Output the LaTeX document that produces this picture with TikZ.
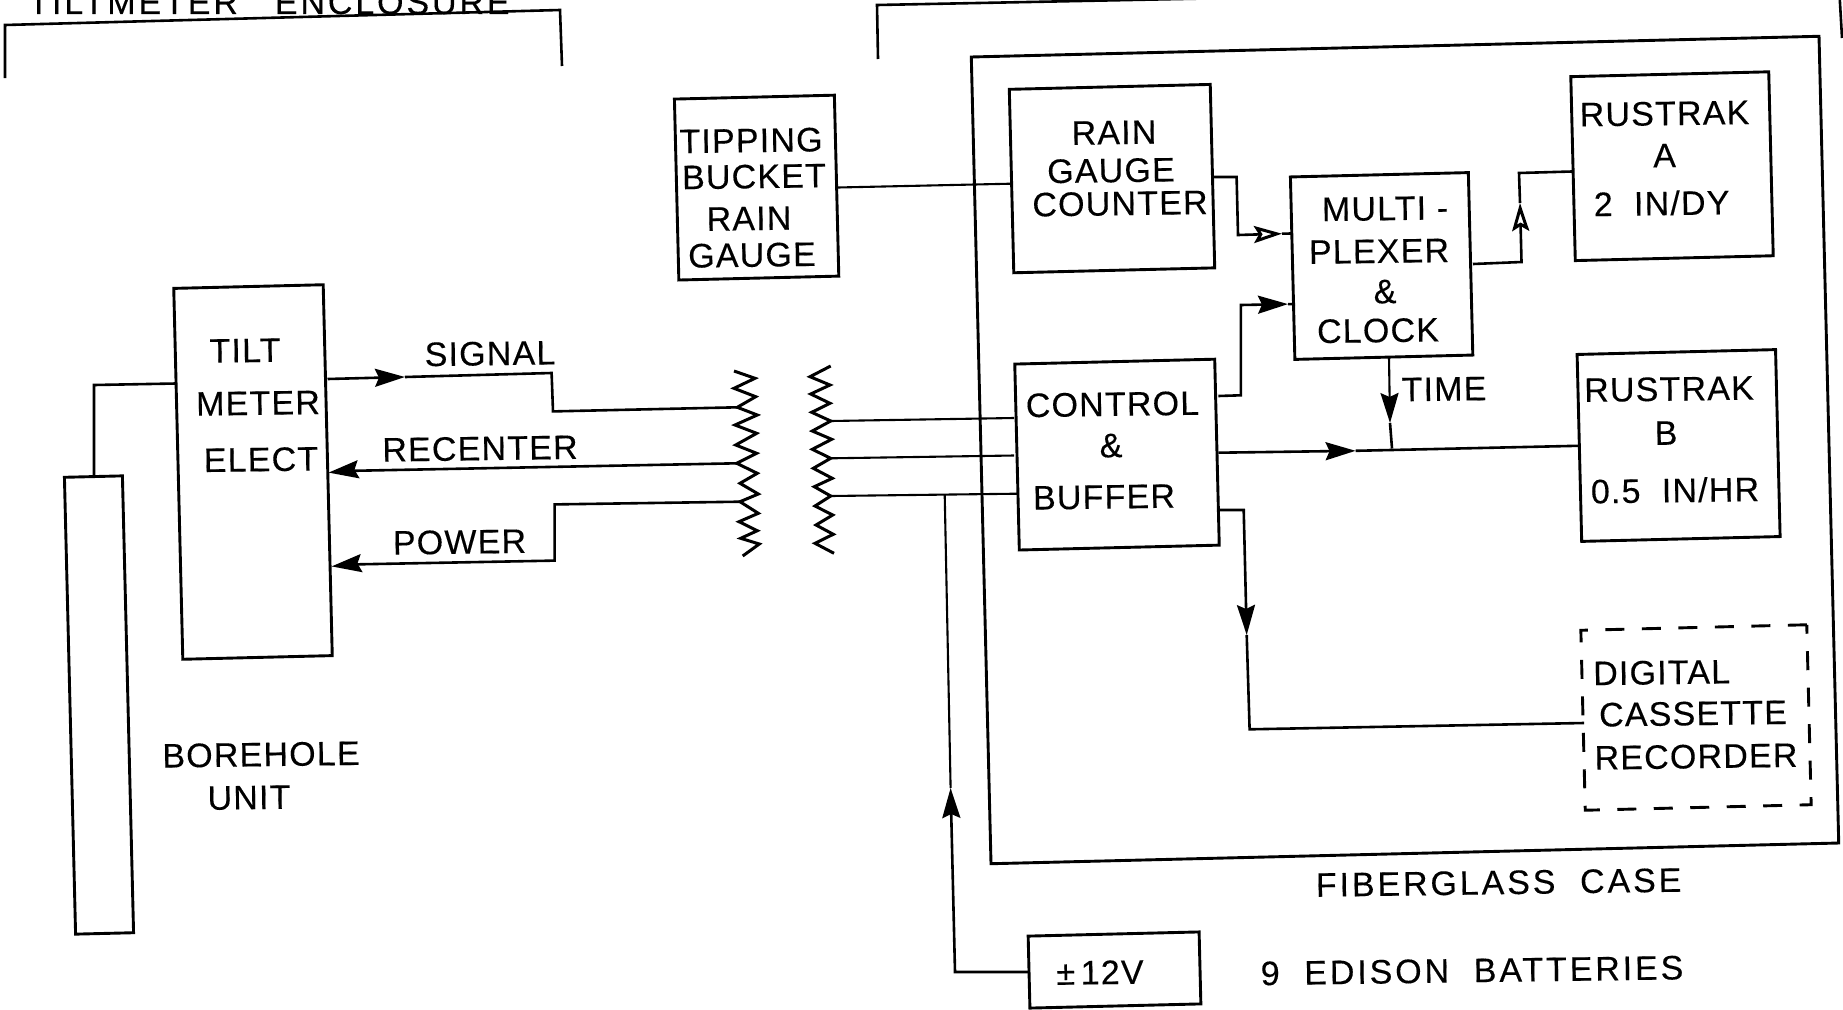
\documentclass[tikz,border=0pt]{standalone}
\usepackage{fontspec}
\setmainfont{Liberation Sans}
\usetikzlibrary{arrows.meta}
\tikzset{
 ln/.style={draw=black,line width=2.6pt,line join=miter},
 thin ln/.style={draw=black,line width=2.1pt},
 boxst/.style={draw=black,line width=2.9pt,fill=none,inner sep=0pt,rotate=1.4},
 dashbox/.style={boxst,dash pattern=on 19pt off 17.5pt},
 lab/.style={inner sep=0pt,text=black,rotate=0.8,text height=24.5pt,text depth=0pt,
   font=\fontsize{34}{36}\selectfont\addfontfeatures{LetterSpace=3.5,FakeBold=0.25}},
 widelab/.style={lab,font=\fontsize{34}{36}\selectfont\addfontfeatures{LetterSpace=8.5,FakeBold=0.25}},
 tipf/.style={-{Stealth[length=30pt,width=18pt,inset=4pt]}},
 tipo/.style={-{Stealth[length=28pt,width=17pt,inset=5pt,open,fill=white,line width=3pt]}},
}
\begin{document}
\begin{tikzpicture}[x=1pt,y=-1pt]
\useasboundingbox (0,0) rectangle (1843,1009);
\clip (0,0) rectangle (1843,1009);
\fill[white] (0,0) rectangle (1843,1009);

% enclosures
\node[widelab,anchor=base,rotate=-0.8] (enc) at (269,14) {TILTMETER\ \ \ ENCLOSURE};
\draw[ln] (5,78)--(5,25)--(560,10)--(562,66);
\draw[ln] (878,59)--(877,5)--(1839,-14)--(1842,38);

% boxes
\node[boxst,minimum width=848pt,minimum height=807pt] (case) at (1405,450) {};
\node[boxst,minimum width=160pt,minimum height=181pt] (tip) at (756.6,187.6) {};
\node[boxst,minimum width=149.5pt,minimum height=371pt] (elect) at (253,472) {};
\node[boxst,minimum width=58pt,minimum height=457pt] (bore) at (99,705) {};
\node[boxst,minimum width=201pt,minimum height=183.5pt] (count) at (1112,178.6) {};
\node[boxst,minimum width=200pt,minimum height=186pt] (ctrl) at (1117,454.6) {};
\node[boxst,minimum width=178pt,minimum height=182.5pt] (mux) at (1381.6,266) {};
\node[boxst,minimum width=198pt,minimum height=184pt] (rka) at (1672,166.2) {};
\node[boxst,minimum width=198.5pt,minimum height=187pt] (rkb) at (1678.6,445.5) {};
\node[boxst,minimum width=171pt,minimum height=72pt] (batt) at (1114.5,970) {};
\node[dashbox,minimum width=226pt,minimum height=180pt] (rec) at (1696,717.5) {};

% ports
\coordinate (boreT) at (94,476);
\coordinate (electL) at (176,383.5);
\coordinate (electS) at (327.5,379);
\coordinate (sigA) at (405,377);
\coordinate (electR) at (328.6,472.6);
\coordinate (recA) at (343,471);
\coordinate (electP) at (331.6,566.4);
\coordinate (powA) at (349,564.5);
\coordinate (cL1) at (737.3,407.3);
\coordinate (cL2) at (736.7,463.3);
\coordinate (cL3) at (740,501.7);
\coordinate (cR1) at (830.7,421);
\coordinate (cR2) at (830.7,458.3);
\coordinate (cR3) at (830.7,496);
\coordinate (tipR) at (838,187.5);
\coordinate (countL) at (1011,183.7);
\coordinate (countR) at (1214,177);
\coordinate (muxL1) at (1291,233.5);
\coordinate (muxL1a) at (1282,233.7);
\coordinate (ctrlL1) at (1014,418);
\coordinate (ctrlL2) at (1014,455.5);
\coordinate (ctrlL3) at (1017,493.7);
\coordinate (ctrlR1) at (1218.4,396);
\coordinate (muxL2) at (1295,304);
\coordinate (muxL2a) at (1288,304.1);
\coordinate (muxR) at (1473,264);
\coordinate (rkaL) at (1572,171.5);
\coordinate (upA) at (1520,203);
\coordinate (muxB) at (1389,358);
\coordinate (timeA) at (1390,423);
\coordinate (jn) at (1392,448.5);
\coordinate (ctrlR2) at (1218.4,452.7);
\coordinate (outA) at (1355.6,450.8);
\coordinate (rkbL) at (1578,445.8);
\coordinate (ctrlR3) at (1220,510);
\coordinate (downA) at (1246.7,635);
\coordinate (recL) at (1584,723);
\coordinate (bus) at (944.7,494.5);
\coordinate (busA) at (950.6,788);
\coordinate (battL) at (1029,972);

% connectors
\draw[ln] (boreT)--(94,385)--(electL);
\draw[ln,tipf] (electS)--(sigA);
\draw[ln] (sigA)--(551.6,373)--(553,411.4)--(cL1);
\draw[ln] (cL2)--(recA);
\draw[ln,tipf] (recA)--(electR);
\draw[ln] (cL3)--(554.6,504.4)--(554.6,560.6)--(powA);
\draw[ln,tipf] (powA)--(electP);
\draw[thin ln] (tipR)--(countL);
\draw[thin ln] (cR1)--(ctrlL1);
\draw[thin ln] (cR2)--(ctrlL2);
\draw[thin ln] (cR3)--(ctrlL3);
\draw[ln,tipo] (countR)--(1236.6,177)--(1238,235)--(muxL1a);
\draw[ln] (muxL1a)--(muxL1);
\draw[ln,tipf] (ctrlR1)--(1240.8,395.3)--(1240.8,305)--(muxL2a);
\draw[ln] (muxL2a)--(muxL2);
\draw[ln,tipo] (muxR)--(1521.5,262)--(upA);
\draw[ln] (upA)--(1519,173)--(rkaL);
\draw[thin ln,tipf] (muxB)--(timeA);
\draw[ln] (timeA)--(jn);
\draw[ln,tipf] (ctrlR2)--(outA);
\draw[ln] (outA)--(rkbL);
\draw[ln,tipf] (ctrlR3)--(1243.7,510)--(downA);
\draw[ln] (downA)--(1249.6,729.3)--(recL);
\draw[ln,tipf] (battL)--(955,972)--(busA);
\draw[thin ln] (busA)--(bus);

% transformer windings
\draw[ln,line width=3pt] (734,371)--(755,378.3)--(734,388.3)--(755.7,396.7)--(cL1)--(757.3,415)--(735,425)--(756.7,433.3)--(735.7,445)--(756.7,453.3)--(cL2)--(757.3,473.3)--(740,483.3)--(758.3,494)--(cL3)--(758.3,513.3)--(739,521.7)--(757.3,530.7)--(740.7,538.3)--(759.3,544)--(742.7,556);
\draw[ln,line width=3pt] (830.7,366)--(810,376.7)--(830,385)--(810.7,394)--(830,403.3)--(811.7,412.3)--(cR1)--(812.3,431)--(831.7,439.3)--(812.3,449.3)--(cR2)--(813.3,468.3)--(832.3,478.3)--(814.3,486.7)--(cR3)--(815,506)--(832.7,515)--(816,525)--(833.3,534.3)--(815,543.3)--(834,553.3);

% labels
\node[lab] (l1) at (751,140) {TIPPING};
\node[lab] (l2) at (754,176) {BUCKET};
\node[lab] (l3) at (749,218) {RAIN};
\node[lab] (l4) at (752,254.5) {GAUGE};
\node[lab] (l5) at (245,350) {TILT};
\node[lab] (l6) at (258,402.6) {METER};
\node[lab] (l7) at (261,459) {ELECT};
\node[lab] (l8) at (490,353) {SIGNAL};
\node[lab] (l9) at (480,448) {RECENTER};
\node[lab] (l10) at (459.5,541.5) {POWER};
\node[lab] (l11) at (261,754) {BOREHOLE};
\node[lab] (l12) at (249,797) {UNIT};
\node[lab] (l13) at (1114,132) {RAIN};
\node[lab] (l14) at (1111,170) {GAUGE};
\node[lab] (l15) at (1120,203) {COUNTER};
\node[lab] (l16) at (1385,208) {MULTI\ -};
\node[lab] (l17) at (1379,250.7) {PLEXER};
\node[lab] (l18) at (1385,291) {\&};
\node[lab] (l19) at (1378,330) {CLOCK};
\node[lab] (l20) at (1664.5,113) {RUSTRAK};
\node[lab] (l21) at (1664.5,155) {A};
\node[lab] (l22) at (1661.6,203) {2\ \ IN/DY};
\node[lab] (l23) at (1669,388.5) {RUSTRAK};
\node[lab] (l24) at (1666,432.5) {B};
\node[lab] (l25) at (1675,490) {0.5\ \ IN/HR};
\node[lab] (l26) at (1112.5,403.7) {CONTROL};
\node[lab] (l27) at (1111,445) {\&};
\node[lab] (l28) at (1104,496.4) {BUFFER};
\node[lab] (l29) at (1444,388.5) {TIME};
\node[lab] (l30) at (1661.6,672) {DIGITAL};
\node[lab] (l31) at (1693,713) {CASSETTE};
\node[lab] (l32) at (1696,756) {RECORDER};
\node[widelab] (l33) at (1498.6,882) {FIBERGLASS\ \ CASE};
\node[widelab] (l34) at (1472,970) {9\ \ EDISON\ \ BATTERIES};
\node[lab] (l35) at (1100,972) {±\,12V};
\end{tikzpicture}
\end{document}
